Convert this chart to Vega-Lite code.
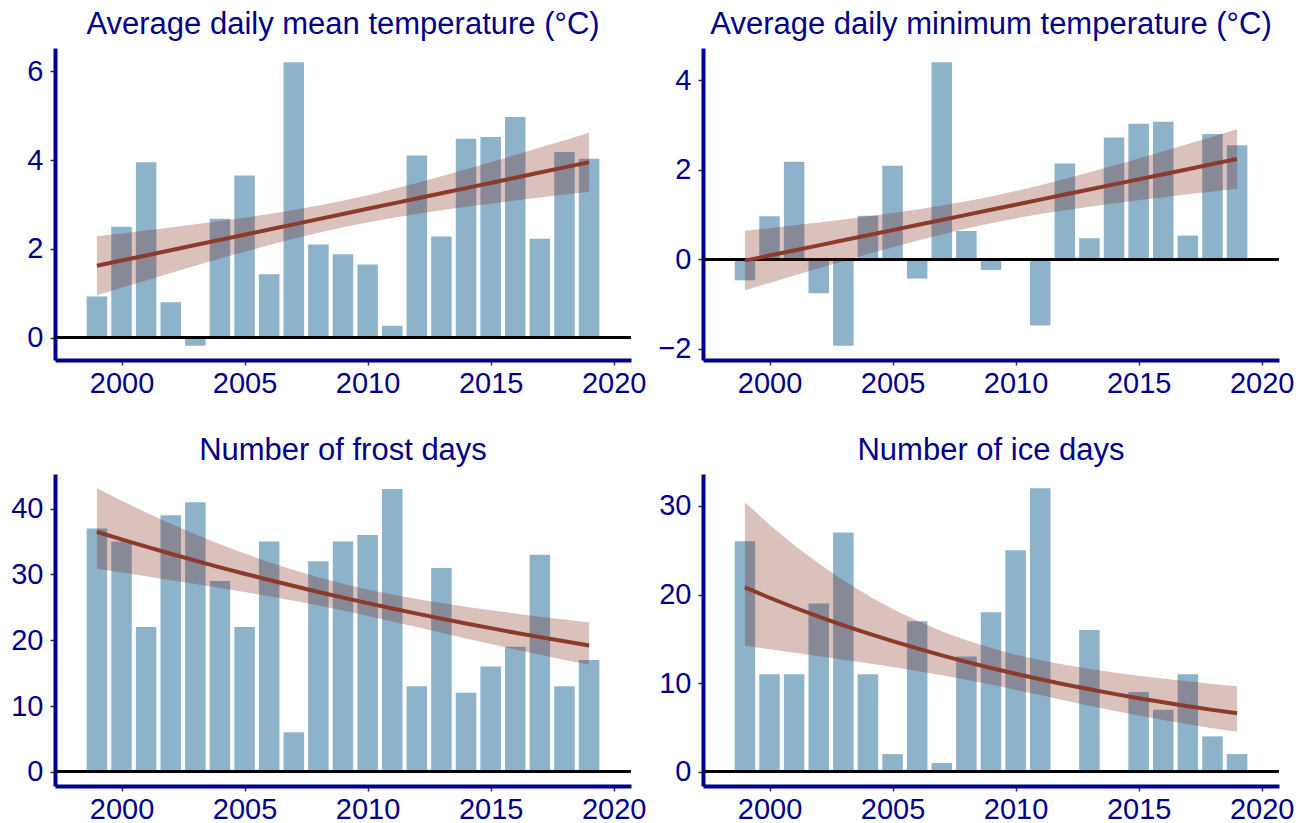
{
  "$schema": "https://vega.github.io/schema/vega-lite/v6.json",
  "background": "white",
  "padding": {"left": 10, "top": 9, "right": 5, "bottom": 5},
  "datasets": {
    "mean": [
      {"year": 1999, "value": 0.93, "fit": 1.620, "lo": 0.955, "hi": 2.285},
      {"year": 2000, "value": 2.50, "fit": 1.737, "lo": 1.125, "hi": 2.349},
      {"year": 2001, "value": 3.95, "fit": 1.853, "lo": 1.291, "hi": 2.415},
      {"year": 2002, "value": 0.80, "fit": 1.970, "lo": 1.458, "hi": 2.482},
      {"year": 2003, "value": -0.18, "fit": 2.086, "lo": 1.620, "hi": 2.552},
      {"year": 2004, "value": 2.68, "fit": 2.203, "lo": 1.781, "hi": 2.625},
      {"year": 2005, "value": 3.65, "fit": 2.319, "lo": 1.936, "hi": 2.702},
      {"year": 2006, "value": 1.43, "fit": 2.436, "lo": 2.087, "hi": 2.785},
      {"year": 2007, "value": 6.20, "fit": 2.552, "lo": 2.229, "hi": 2.875},
      {"year": 2008, "value": 2.10, "fit": 2.669, "lo": 2.363, "hi": 2.975},
      {"year": 2009, "value": 1.88, "fit": 2.785, "lo": 2.485, "hi": 3.085},
      {"year": 2010, "value": 1.65, "fit": 2.902, "lo": 2.596, "hi": 3.208},
      {"year": 2011, "value": 0.27, "fit": 3.018, "lo": 2.695, "hi": 3.341},
      {"year": 2012, "value": 4.10, "fit": 3.135, "lo": 2.786, "hi": 3.484},
      {"year": 2013, "value": 2.28, "fit": 3.251, "lo": 2.868, "hi": 3.634},
      {"year": 2014, "value": 4.48, "fit": 3.368, "lo": 2.946, "hi": 3.790},
      {"year": 2015, "value": 4.52, "fit": 3.484, "lo": 3.018, "hi": 3.950},
      {"year": 2016, "value": 4.97, "fit": 3.601, "lo": 3.089, "hi": 4.113},
      {"year": 2017, "value": 2.23, "fit": 3.717, "lo": 3.155, "hi": 4.279},
      {"year": 2018, "value": 4.18, "fit": 3.834, "lo": 3.222, "hi": 4.446},
      {"year": 2019, "value": 4.03, "fit": 3.950, "lo": 3.285, "hi": 4.615}
    ],
    "min": [
      {"year": 1999, "value": -0.47, "fit": -0.030, "lo": -0.695, "hi": 0.635},
      {"year": 2000, "value": 0.96, "fit": 0.084, "lo": -0.528, "hi": 0.696},
      {"year": 2001, "value": 2.18, "fit": 0.197, "lo": -0.365, "hi": 0.759},
      {"year": 2002, "value": -0.76, "fit": 0.311, "lo": -0.201, "hi": 0.823},
      {"year": 2003, "value": -1.93, "fit": 0.424, "lo": -0.042, "hi": 0.890},
      {"year": 2004, "value": 0.97, "fit": 0.538, "lo": 0.116, "hi": 0.960},
      {"year": 2005, "value": 2.09, "fit": 0.651, "lo": 0.268, "hi": 1.034},
      {"year": 2006, "value": -0.43, "fit": 0.765, "lo": 0.416, "hi": 1.114},
      {"year": 2007, "value": 4.40, "fit": 0.878, "lo": 0.555, "hi": 1.201},
      {"year": 2008, "value": 0.63, "fit": 0.992, "lo": 0.686, "hi": 1.298},
      {"year": 2009, "value": -0.24, "fit": 1.105, "lo": 0.805, "hi": 1.405},
      {"year": 2010, "value": 0.03, "fit": 1.219, "lo": 0.913, "hi": 1.525},
      {"year": 2011, "value": -1.48, "fit": 1.332, "lo": 1.009, "hi": 1.655},
      {"year": 2012, "value": 2.14, "fit": 1.446, "lo": 1.097, "hi": 1.795},
      {"year": 2013, "value": 0.47, "fit": 1.559, "lo": 1.176, "hi": 1.942},
      {"year": 2014, "value": 2.72, "fit": 1.673, "lo": 1.251, "hi": 2.095},
      {"year": 2015, "value": 3.03, "fit": 1.786, "lo": 1.320, "hi": 2.252},
      {"year": 2016, "value": 3.07, "fit": 1.900, "lo": 1.388, "hi": 2.412},
      {"year": 2017, "value": 0.53, "fit": 2.013, "lo": 1.451, "hi": 2.575},
      {"year": 2018, "value": 2.80, "fit": 2.127, "lo": 1.515, "hi": 2.739},
      {"year": 2019, "value": 2.55, "fit": 2.240, "lo": 1.575, "hi": 2.905}
    ],
    "frost": [
      {"year": 1999, "value": 37, "fit": 36.50, "lo": 30.89, "hi": 43.12},
      {"year": 2000, "value": 35, "fit": 35.35, "lo": 30.31, "hi": 41.23},
      {"year": 2001, "value": 22, "fit": 34.23, "lo": 29.72, "hi": 39.42},
      {"year": 2002, "value": 39, "fit": 33.15, "lo": 29.14, "hi": 37.72},
      {"year": 2003, "value": 41, "fit": 32.10, "lo": 28.54, "hi": 36.10},
      {"year": 2004, "value": 29, "fit": 31.09, "lo": 27.94, "hi": 34.59},
      {"year": 2005, "value": 22, "fit": 30.11, "lo": 27.33, "hi": 33.18},
      {"year": 2006, "value": 35, "fit": 29.16, "lo": 26.68, "hi": 31.87},
      {"year": 2007, "value": 6, "fit": 28.24, "lo": 26.00, "hi": 30.67},
      {"year": 2008, "value": 32, "fit": 27.34, "lo": 25.28, "hi": 29.57},
      {"year": 2009, "value": 35, "fit": 26.48, "lo": 24.52, "hi": 28.60},
      {"year": 2010, "value": 36, "fit": 25.64, "lo": 23.71, "hi": 27.73},
      {"year": 2011, "value": 43, "fit": 24.83, "lo": 22.86, "hi": 26.97},
      {"year": 2012, "value": 13, "fit": 24.05, "lo": 22.00, "hi": 26.29},
      {"year": 2013, "value": 31, "fit": 23.29, "lo": 21.14, "hi": 25.67},
      {"year": 2014, "value": 12, "fit": 22.55, "lo": 20.27, "hi": 25.09},
      {"year": 2015, "value": 16, "fit": 21.84, "lo": 19.42, "hi": 24.56},
      {"year": 2016, "value": 19, "fit": 21.15, "lo": 18.59, "hi": 24.06},
      {"year": 2017, "value": 33, "fit": 20.48, "lo": 17.78, "hi": 23.58},
      {"year": 2018, "value": 13, "fit": 19.84, "lo": 17.01, "hi": 23.14},
      {"year": 2019, "value": 17, "fit": 19.21, "lo": 16.26, "hi": 22.70}
    ],
    "ice": [
      {"year": 1999, "value": 26, "fit": 20.80, "lo": 14.23, "hi": 30.42},
      {"year": 2000, "value": 11, "fit": 19.64, "lo": 13.83, "hi": 27.88},
      {"year": 2001, "value": 11, "fit": 18.54, "lo": 13.44, "hi": 25.57},
      {"year": 2002, "value": 19, "fit": 17.51, "lo": 13.05, "hi": 23.49},
      {"year": 2003, "value": 27, "fit": 16.53, "lo": 12.65, "hi": 21.60},
      {"year": 2004, "value": 11, "fit": 15.61, "lo": 12.24, "hi": 19.90},
      {"year": 2005, "value": 2, "fit": 14.74, "lo": 11.82, "hi": 18.38},
      {"year": 2006, "value": 17, "fit": 13.92, "lo": 11.37, "hi": 17.04},
      {"year": 2007, "value": 1, "fit": 13.14, "lo": 10.89, "hi": 15.85},
      {"year": 2008, "value": 13, "fit": 12.41, "lo": 10.38, "hi": 14.83},
      {"year": 2009, "value": 18, "fit": 11.72, "lo": 9.84, "hi": 13.96},
      {"year": 2010, "value": 25, "fit": 11.06, "lo": 9.25, "hi": 13.22},
      {"year": 2011, "value": 32, "fit": 10.45, "lo": 8.66, "hi": 12.60},
      {"year": 2012, "value": 0, "fit": 9.86, "lo": 8.06, "hi": 12.07},
      {"year": 2013, "value": 16, "fit": 9.31, "lo": 7.46, "hi": 11.61},
      {"year": 2014, "value": 0, "fit": 8.79, "lo": 6.89, "hi": 11.21},
      {"year": 2015, "value": 9, "fit": 8.30, "lo": 6.35, "hi": 10.85},
      {"year": 2016, "value": 7, "fit": 7.84, "lo": 5.84, "hi": 10.52},
      {"year": 2017, "value": 11, "fit": 7.40, "lo": 5.37, "hi": 10.21},
      {"year": 2018, "value": 4, "fit": 6.99, "lo": 4.92, "hi": 9.92},
      {"year": 2019, "value": 2, "fit": 6.60, "lo": 4.51, "hi": 9.65}
    ]
  },
  "columns": 2,
  "bounds": "flush",
  "spacing": {"row": 114, "column": 72},
  "concat": [
    {
      "title": "Average daily mean temperature (°C)",
      "width": 576, "height": 312,
      "data": {"name": "mean"},
      "layer": [
        {"mark": {"type": "bar", "width": 20.5, "color": "#8db3cb"},
         "encoding": {
           "x": {"field": "year", "type": "quantitative", "scale": {"domain": [1997.5, 2020.5], "nice": false, "zero": false}, "axis": {"values": [2000, 2005, 2010, 2015, 2020], "format": "d", "title": null, "labelPadding": 4}},
           "y": {"field": "value", "type": "quantitative", "scale": {"domain": [-0.5, 6.52], "nice": false, "zero": false}, "axis": {"values": [0, 2, 4, 6], "title": null}},
           "y2": {"datum": 0}}},
        {"mark": {"type": "rule", "color": "black", "strokeWidth": 2}, "encoding": {"y": {"datum": 0}}},
        {"mark": {"type": "area", "color": "#7a1a08", "opacity": 0.27},
         "encoding": {"x": {"field": "year", "type": "quantitative"}, "y": {"field": "lo", "type": "quantitative"}, "y2": {"field": "hi"}}},
        {"mark": {"type": "line", "color": "#8b3a2b", "strokeWidth": 4},
         "encoding": {"x": {"field": "year", "type": "quantitative"}, "y": {"field": "fit", "type": "quantitative"}}}
      ]
    },
    {
      "title": "Average daily minimum temperature (°C)",
      "width": 576, "height": 312,
      "data": {"name": "min"},
      "layer": [
        {"mark": {"type": "bar", "width": 20.5, "color": "#8db3cb"},
         "encoding": {
           "x": {"field": "year", "type": "quantitative", "scale": {"domain": [1997.5, 2020.5], "nice": false, "zero": false}, "axis": {"values": [2000, 2005, 2010, 2015, 2020], "format": "d", "title": null, "labelPadding": 4}},
           "y": {"field": "value", "type": "quantitative", "scale": {"domain": [-2.25, 4.72], "nice": false, "zero": false}, "axis": {"values": [-2, 0, 2, 4], "title": null}},
           "y2": {"datum": 0}}},
        {"mark": {"type": "rule", "color": "black", "strokeWidth": 2}, "encoding": {"y": {"datum": 0}}},
        {"mark": {"type": "area", "color": "#7a1a08", "opacity": 0.27},
         "encoding": {"x": {"field": "year", "type": "quantitative"}, "y": {"field": "lo", "type": "quantitative"}, "y2": {"field": "hi"}}},
        {"mark": {"type": "line", "color": "#8b3a2b", "strokeWidth": 4},
         "encoding": {"x": {"field": "year", "type": "quantitative"}, "y": {"field": "fit", "type": "quantitative"}}}
      ]
    },
    {
      "title": "Number of frost days",
      "width": 576, "height": 312,
      "data": {"name": "frost"},
      "layer": [
        {"mark": {"type": "bar", "width": 20.5, "color": "#8db3cb"},
         "encoding": {
           "x": {"field": "year", "type": "quantitative", "scale": {"domain": [1997.5, 2020.5], "nice": false, "zero": false}, "axis": {"values": [2000, 2005, 2010, 2015, 2020], "format": "d", "title": null, "labelPadding": 4}},
           "y": {"field": "value", "type": "quantitative", "scale": {"domain": [-2.16, 45.28], "nice": false, "zero": false}, "axis": {"values": [0, 10, 20, 30, 40], "title": null}},
           "y2": {"datum": 0}}},
        {"mark": {"type": "rule", "color": "black", "strokeWidth": 2}, "encoding": {"y": {"datum": 0}}},
        {"mark": {"type": "area", "color": "#7a1a08", "opacity": 0.27},
         "encoding": {"x": {"field": "year", "type": "quantitative"}, "y": {"field": "lo", "type": "quantitative"}, "y2": {"field": "hi"}}},
        {"mark": {"type": "line", "color": "#8b3a2b", "strokeWidth": 4},
         "encoding": {"x": {"field": "year", "type": "quantitative"}, "y": {"field": "fit", "type": "quantitative"}}}
      ]
    },
    {
      "title": "Number of ice days",
      "width": 576, "height": 312,
      "data": {"name": "ice"},
      "layer": [
        {"mark": {"type": "bar", "width": 20.5, "color": "#8db3cb"},
         "encoding": {
           "x": {"field": "year", "type": "quantitative", "scale": {"domain": [1997.5, 2020.5], "nice": false, "zero": false}, "axis": {"values": [2000, 2005, 2010, 2015, 2020], "format": "d", "title": null, "labelPadding": 4}},
           "y": {"field": "value", "type": "quantitative", "scale": {"domain": [-1.6, 33.6], "nice": false, "zero": false}, "axis": {"values": [0, 10, 20, 30], "title": null}},
           "y2": {"datum": 0}}},
        {"mark": {"type": "rule", "color": "black", "strokeWidth": 2}, "encoding": {"y": {"datum": 0}}},
        {"mark": {"type": "area", "color": "#7a1a08", "opacity": 0.27},
         "encoding": {"x": {"field": "year", "type": "quantitative"}, "y": {"field": "lo", "type": "quantitative"}, "y2": {"field": "hi"}}},
        {"mark": {"type": "line", "color": "#8b3a2b", "strokeWidth": 4},
         "encoding": {"x": {"field": "year", "type": "quantitative"}, "y": {"field": "fit", "type": "quantitative"}}}
      ]
    }
  ],
  "config": {
    "font": "Liberation Sans",
    "view": {"stroke": null},
    "axis": {
      "grid": false,
      "domainColor": "#00008b",
      "domainWidth": 4,
      "tickColor": "#333333",
      "tickWidth": 1.5,
      "tickSize": 5,
      "labelColor": "#00008b",
      "labelFontSize": 29,
      "labelFont": "Liberation Sans",
      "labelPadding": 7,
      "labelFlush": false,
      "labelOverlap": false
    },
    "title": {"fontSize": 31, "color": "#00008b", "fontWeight": "normal", "font": "Liberation Sans", "offset": 7, "anchor": "middle"}
  }
}
